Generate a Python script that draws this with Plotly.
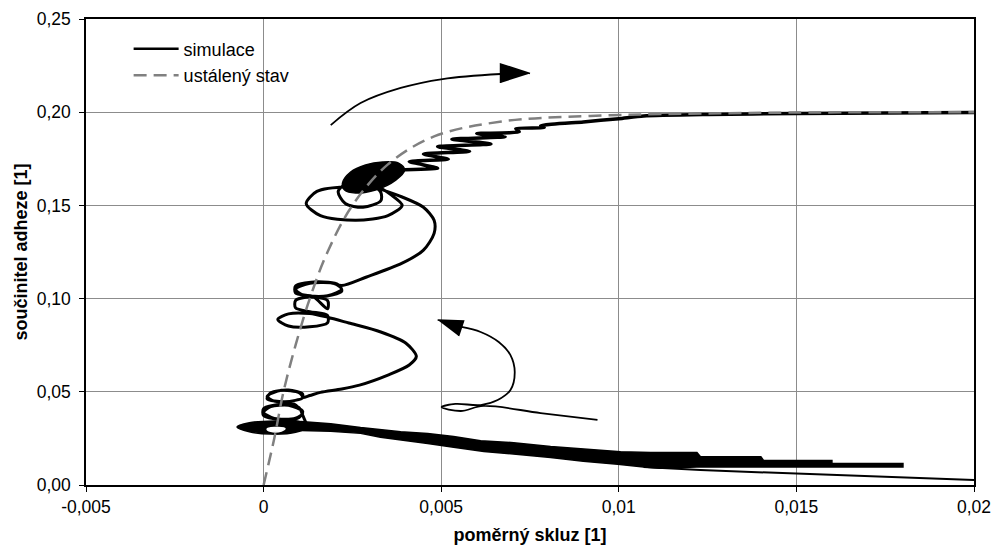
import plotly.graph_objects as go

# ---------------- data ----------------
x_ticks = [-0.005, 0, 0.005, 0.01, 0.015, 0.02]
x_tick_labels = ["-0,005", "0", "0,005", "0,01", "0,015", "0,02"]
y_ticks = [0, 0.05, 0.10, 0.15, 0.20, 0.25]
y_tick_labels = ["0,00", "0,05", "0,10", "0,15", "0,20", "0,25"]

# steady state (ustálený stav)
steady_x = [0, 0.0003, 0.00056, 0.0009, 0.0013, 0.0018, 0.0025, 0.0035, 0.0048, 0.0067, 0.0092, 0.0136, 0.02]
steady_y = [0, 0.025, 0.050, 0.075, 0.100, 0.125, 0.150, 0.172, 0.187, 0.195, 0.198, 0.1996, 0.200]

# simulation: thin start at bottom right
sim_start_x = [0.0200, 0.0175, 0.0150, 0.0123, 0.0107]
sim_start_y = [0.0027, 0.0043, 0.0059, 0.0080, 0.0097]

# simulation: dense oscillating band (outline)
band_x = [0.00104, 0.00189, 0.00273, 0.00386, 0.00462, 0.00535, 0.00611, 0.00704, 0.00808, 0.00921, 0.01005,
          0.0109, 0.0122, 0.0123, 0.0140, 0.01408, 0.0160, 0.0160, 0.0180,
          0.0180, 0.0160, 0.0140, 0.0122, 0.01118, 0.0107, 0.00997, 0.0090, 0.00808, 0.00715, 0.0062,
          0.00535, 0.00462, 0.00329, 0.00273, 0.00189, 0.00104]
band_y = [0.0340, 0.0329, 0.0308, 0.0286, 0.0276, 0.0260, 0.0238, 0.0227, 0.0206, 0.0190, 0.0179,
          0.0174, 0.0174, 0.0152, 0.0152, 0.0131, 0.0131, 0.0115, 0.0115,
          0.0096, 0.0096, 0.0096, 0.0096, 0.0090, 0.0096, 0.0111, 0.0127, 0.0148, 0.0164, 0.0180,
          0.0202, 0.0223, 0.0256, 0.0277, 0.0288, 0.0293]

# simulation: flat filled loop at the lowest equilibrium
flat_loop_x = [-0.00075, -0.0004, 0.0003, 0.00104, 0.0012, 0.0009, 0.0002, -0.0004]
flat_loop_y = [0.0311, 0.0334, 0.0344, 0.0339, 0.0311, 0.0283, 0.0273, 0.0286]
flat_hole_x = [0.0001, 0.0003, 0.0006, 0.0005, 0.0002]
flat_hole_y = [0.0300, 0.0308, 0.0303, 0.0290, 0.0288]

# simulation: spiralling climb
sim_x = [0.0012, 0.0011, 0.0010, 0.0005, 0.0000, 0.0000, 0.0005, 0.0010, 0.0011, 0.0007, 0.0002, 0.0000, 0.0003, 0.0009, 0.0011,
         0.0008, 0.0003, 0.0001, 0.0005, 0.0010, 0.0011, 0.0006, 0.0001, 0.0002, 0.0007, 0.0011, 0.0011,
         0.0013, 0.0016, 0.0022, 0.0027, 0.0035, 0.0041, 0.0043, 0.0040, 0.0033, 0.0024, 0.0018,
         0.0013, 0.0007, 0.0004, 0.0007, 0.0013, 0.0018, 0.0018,
         0.0013, 0.0009, 0.0009, 0.0013, 0.0018, 0.0018,
         0.0014, 0.0009, 0.0009, 0.0015, 0.0021, 0.0022, 0.0016, 0.0010, 0.0009, 0.0014, 0.0020, 0.0022, 0.0018, 0.0011, 0.0009, 0.0013, 0.0019, 0.0022,
         0.0029, 0.0039, 0.0045, 0.0048, 0.0048, 0.0045, 0.0039,
         0.0032, 0.0024, 0.0015, 0.0012, 0.0016, 0.0026, 0.0035, 0.0039, 0.0036,
         0.0031, 0.0024, 0.0021, 0.0023, 0.0028, 0.0033, 0.0033, 0.0030]
sim_y = [0.0330, 0.0375, 0.0415, 0.0432, 0.0410, 0.0372, 0.0352, 0.0362, 0.0395, 0.0428, 0.0420, 0.0390, 0.0357, 0.0358, 0.0385,
         0.0440, 0.0450, 0.0475, 0.0508, 0.0495, 0.0468, 0.0447, 0.0462, 0.0495, 0.0509, 0.0488, 0.0470,
         0.0480, 0.0497, 0.0515, 0.0536, 0.0590, 0.0644, 0.0690, 0.0762, 0.0821, 0.0869, 0.0900,
         0.0920, 0.0918, 0.0888, 0.0853, 0.0849, 0.0870, 0.0910,
         0.0930, 0.0950, 0.0990, 0.1008, 0.0990, 0.0945,
         0.1010, 0.1030, 0.1068, 0.1090, 0.1075, 0.1040, 0.1010, 0.1025, 0.1060, 0.1087, 0.1080, 0.1050, 0.1015, 0.1020, 0.1050, 0.1082, 0.1085, 0.1070,
         0.1116, 0.1190, 0.1260, 0.1350, 0.1420, 0.1490, 0.1545,
         0.1590, 0.1600, 0.1575, 0.1510, 0.1445, 0.1420, 0.1445, 0.1500, 0.1555,
         0.1610, 0.1622, 0.1575, 0.1510, 0.1490, 0.1525, 0.1570, 0.1620]

# simulation: dense filled knot at the highest equilibrium
blob_x = [0.00222, 0.00245, 0.00287, 0.00335, 0.0038, 0.00397, 0.00372, 0.00315, 0.00259, 0.00228]
blob_y = [0.1620, 0.1679, 0.1717, 0.1733, 0.1727, 0.1690, 0.1636, 0.1583, 0.1567, 0.1583]

# simulation: oscillating run-out to the right
sim_end_x = [0.0037, 0.0049, 0.0041, 0.0052, 0.0045, 0.0058, 0.0049, 0.0064, 0.0053, 0.0068, 0.0060, 0.0072, 0.0071, 0.0079,
             0.0078, 0.0090, 0.0100, 0.0107, 0.0125, 0.0150, 0.0175, 0.0200]
sim_end_y = [0.1690, 0.1700, 0.1735, 0.1748, 0.1775, 0.1790, 0.1815, 0.1830, 0.1855, 0.1868, 0.1885, 0.1895, 0.1912, 0.1918,
             0.1928, 0.1948, 0.1965, 0.1980, 0.1988, 0.1993, 0.1996, 0.1998]

# arrows (annotations)
arrow_up_x = [0.00189, 0.00273, 0.00386, 0.00504, 0.00667]
arrow_up_y = [0.1931, 0.2049, 0.2130, 0.2178, 0.2205]
arrow_up_head_x = [0.00750, 0.00667, 0.00667]
arrow_up_head_y = [0.2208, 0.2259, 0.2157]
arrow_lo_x = [0.0094, 0.0078, 0.00619, 0.00555, 0.00501, 0.0054, 0.00611, 0.00659, 0.00695, 0.00707, 0.00695, 0.00662, 0.00611, 0.00557]
arrow_lo_y = [0.0349, 0.0386, 0.0424, 0.0397, 0.0418, 0.0435, 0.0429, 0.0456, 0.0510, 0.0606, 0.0697, 0.0767, 0.0821, 0.0848]
arrow_lo_head_x = [0.0049, 0.00563, 0.00549]
arrow_lo_head_y = [0.0885, 0.0880, 0.0799]

# ---------------- figure ----------------
BLACK = "#000000"
GRAY = "#808080"
FONT = "Liberation Sans, Arial, sans-serif"
fig = go.Figure()

def poly(x, y, color, smooth=False):
    fig.add_trace(go.Scatter(x=x, y=y, mode="lines", fill="toself", fillcolor=color,
                             line=dict(color=color, width=1.5, shape="spline" if smooth else "linear"),
                             showlegend=False, hoverinfo="skip"))

poly(band_x, band_y, BLACK)
poly(flat_loop_x + flat_loop_x[:1], flat_loop_y + flat_loop_y[:1], BLACK, smooth=True)
poly(flat_hole_x + flat_hole_x[:1], flat_hole_y + flat_hole_y[:1], "#ffffff", smooth=True)
poly(blob_x + blob_x[:1], blob_y + blob_y[:1], BLACK, smooth=True)

fig.add_trace(go.Scatter(x=sim_start_x, y=sim_start_y, mode="lines", line=dict(color=BLACK, width=2),
                         showlegend=False, hoverinfo="skip"))
fig.add_trace(go.Scatter(x=sim_x, y=sim_y, mode="lines", showlegend=False, hoverinfo="skip",
                         line=dict(color=BLACK, width=3, shape="spline", smoothing=0.8)))
fig.add_trace(go.Scatter(x=sim_end_x, y=sim_end_y, mode="lines", line=dict(color=BLACK, width=3.5, shape="spline", smoothing=0.6),
                         showlegend=False, hoverinfo="skip"))
# legend entry for the simulation (normal line weight)
fig.add_trace(go.Scatter(x=[None], y=[None], mode="lines", name="simulace",
                         line=dict(color=BLACK, width=2.5)))
fig.add_trace(go.Scatter(x=steady_x, y=steady_y, mode="lines", name="ustálený stav",
                         line=dict(color=GRAY, width=2.5, dash="13px,7px", shape="spline")))

fig.add_trace(go.Scatter(x=arrow_up_x, y=arrow_up_y, mode="lines", line=dict(color=BLACK, width=1.8, shape="spline"),
                         showlegend=False, hoverinfo="skip"))
poly(arrow_up_head_x, arrow_up_head_y, BLACK)
fig.add_trace(go.Scatter(x=arrow_lo_x, y=arrow_lo_y, mode="lines", line=dict(color=BLACK, width=1.8, shape="spline"),
                         showlegend=False, hoverinfo="skip"))
poly(arrow_lo_head_x, arrow_lo_head_y, BLACK)

axis_common = dict(showgrid=True, gridcolor="#8c8c8c", gridwidth=1, zeroline=False,
                   showline=True, linecolor=BLACK, linewidth=1.5, mirror=True,
                   ticks="outside", ticklen=5, tickcolor=BLACK, automargin=False,
                   tickfont=dict(family=FONT, size=17.5, color=BLACK))

fig.update_xaxes(range=[-0.005, 0.02], tickvals=x_ticks, ticktext=x_tick_labels,
                 title=dict(text="<b>poměrný skluz [1]</b>", font=dict(family=FONT, size=18, color=BLACK), standoff=14),
                 **axis_common)
fig.update_yaxes(range=[0, 0.25], tickvals=y_ticks, ticktext=y_tick_labels, ticklabelstandoff=5,
                 title=dict(text="<b>součinitel adheze [1]</b>", font=dict(family=FONT, size=18, color=BLACK), standoff=4),
                 **axis_common)

fig.update_layout(
    width=995, height=545,
    margin=dict(l=86, r=21, t=19, b=60),
    paper_bgcolor="white", plot_bgcolor="white",
    showlegend=True,
    legend=dict(x=0.048, y=0.975, xanchor="left", yanchor="top", bgcolor="rgba(255,255,255,0)",
                font=dict(family=FONT, size=18, color=BLACK), tracegroupgap=2, itemwidth=45),
)

fig.write_html("out.html")
